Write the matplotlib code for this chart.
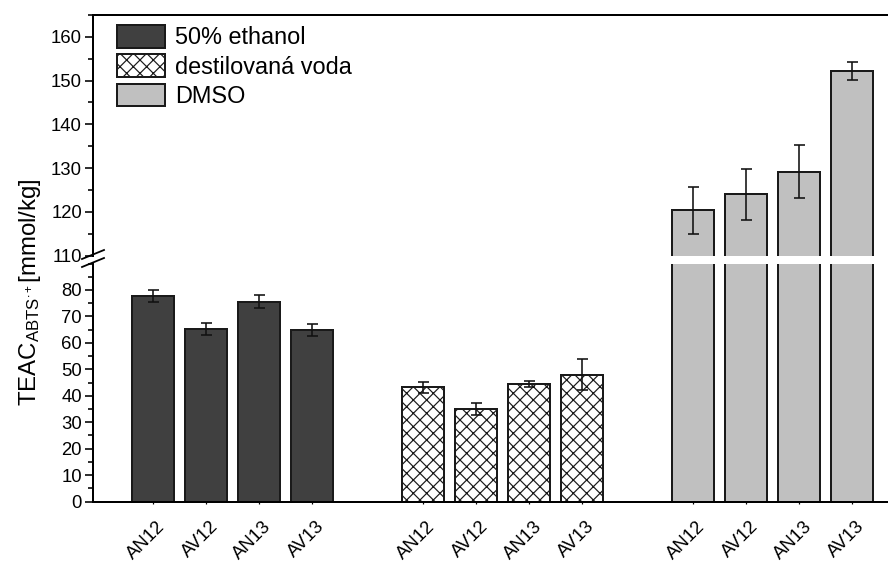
import matplotlib
matplotlib.use("Agg")
import matplotlib.pyplot as plt
from matplotlib.lines import Line2D
from matplotlib.ticker import MultipleLocator
from matplotlib.transforms import ScaledTranslation

# ---- data -------------------------------------------------------------
samples = ["AN12", "AV12", "AN13", "AV13"]
solvents = ["50% ethanol", "destilovaná voda", "DMSO"]

ethanol = [77.7, 65.3, 75.6, 65.0]
ethanol_err = [2.4, 2.2, 2.3, 2.3]

voda = [43.2, 35.0, 44.4, 47.9]
voda_err = [2.1, 2.2, 1.0, 5.9]

dmso = [120.3, 124.0, 129.2, 152.2]
dmso_err = [5.4, 5.8, 6.0, 2.0]

# ---- style ------------------------------------------------------------
DPI = 80
PX = 72.0 / DPI          # points per pixel
plt.rcParams["font.family"] = ["Liberation Sans", "DejaVu Sans"]
plt.rcParams["mathtext.fontset"] = "custom"
plt.rcParams["mathtext.rm"] = "Liberation Sans"
plt.rcParams["mathtext.it"] = "Liberation Sans:italic"
plt.rcParams["mathtext.bf"] = "Liberation Sans:bold"
plt.rcParams["hatch.linewidth"] = 1.2 * PX
plt.rcParams["hatch.color"] = "#1a1a1a"

EDGE = "#1a1a1a"
series = [
    (ethanol, ethanol_err, dict(color="#404040", hatch=None)),
    (voda, voda_err, dict(color="white", hatch="xx")),
    (dmso, dmso_err, dict(color="#c0c0c0", hatch=None)),
]

GROUP_STEP = 5.075
BAR_W = 0.79

fig = plt.figure(figsize=(888 / DPI, 563 / DPI), dpi=DPI)
W, H = 888.0, 563.0
left, right = 93 / W, 1.0
ax_hi = fig.add_axes([left, 1 - 255.5 / H, right - left, (255.5 - 15) / H])
ax_lo = fig.add_axes([left, 1 - 501.5 / H, right - left, (501.5 - 263.5) / H])

positions = []
for g, (vals, errs, st) in enumerate(series):
    xs = [g * GROUP_STEP + i for i in range(len(samples))]
    positions.extend(xs)
    for ax in (ax_hi, ax_lo):
        ax.bar(xs, vals, width=BAR_W, color=st["color"], hatch=st["hatch"],
               edgecolor=EDGE, linewidth=2.0 * PX,
               label=solvents[g] if ax is ax_hi else None, zorder=2)
        ax.errorbar(xs, vals, yerr=errs, fmt="none", ecolor="#111111",
                    elinewidth=1.6 * PX, capsize=5.5 * PX,
                    capthick=1.6 * PX, zorder=3)

xlim = (-1.12, 13.82)
for ax in (ax_hi, ax_lo):
    ax.set_xlim(*xlim)
    ax.spines["right"].set_visible(False)
    for s in ax.spines.values():
        s.set_linewidth(2.0 * PX)
        s.set_color("black")
    ax.tick_params(axis="y", which="major", direction="out",
                   length=8 * PX, width=1.6 * PX, pad=3 * PX,
                   labelsize=18.5 * PX)
    ax.tick_params(axis="y", which="minor", direction="out",
                   length=5 * PX, width=1.6 * PX)
    ax.yaxis.set_minor_locator(MultipleLocator(5))

# upper part of the broken axis
ax_hi.set_ylim(110, 165)
ax_hi.spines["bottom"].set_visible(False)
ax_hi.set_yticks(range(110, 161, 10))
ax_hi.tick_params(axis="x", which="both", bottom=False, labelbottom=False)

# lower part of the broken axis
ax_lo.set_ylim(0, 90)
ax_lo.spines["top"].set_visible(False)
ax_lo.set_yticks(range(0, 81, 10))
ax_lo.set_xticks(positions)
ax_lo.set_xticklabels(samples * 3, rotation=45, ha="right",
                      rotation_mode="anchor", fontsize=18.5 * PX)
ax_lo.tick_params(axis="x", direction="inout", length=3 * PX,
                  width=1.2 * PX, pad=15 * PX)
shift = ScaledTranslation(4 / DPI, 0, fig.dpi_scale_trans)
for lbl in ax_lo.get_xticklabels():
    lbl.set_transform(lbl.get_transform() + shift)

# break marks on the left spine
for yc in (254.5, 262.5):
    fig.add_artist(Line2D([82 / W, 104 / W],
                          [1 - (yc + 4.5) / H, 1 - (yc - 4.5) / H],
                          transform=fig.transFigure, color="black",
                          linewidth=1.8 * PX))

# y-axis title
fig.text(30 / W, 1 - 292 / H,
         r"TEAC$_{\mathrm{ABTS}^{\bullet+}}$[mmol/kg]",
         rotation=90, ha="center", va="center", fontsize=24 * PX)

# legend
handles, labels = ax_hi.get_legend_handles_labels()
leg = ax_hi.legend(handles, labels, loc="upper left",
                   bbox_to_anchor=(117 / W, 1 - 25 / H),
                   bbox_transform=fig.transFigure, frameon=False,
                   fontsize=23.5 * PX, handlelength=2.05, handleheight=1.1,
                   handletextpad=0.43, labelspacing=0.22,
                   borderpad=0, borderaxespad=0)

fig.savefig("out.png", dpi=DPI)
